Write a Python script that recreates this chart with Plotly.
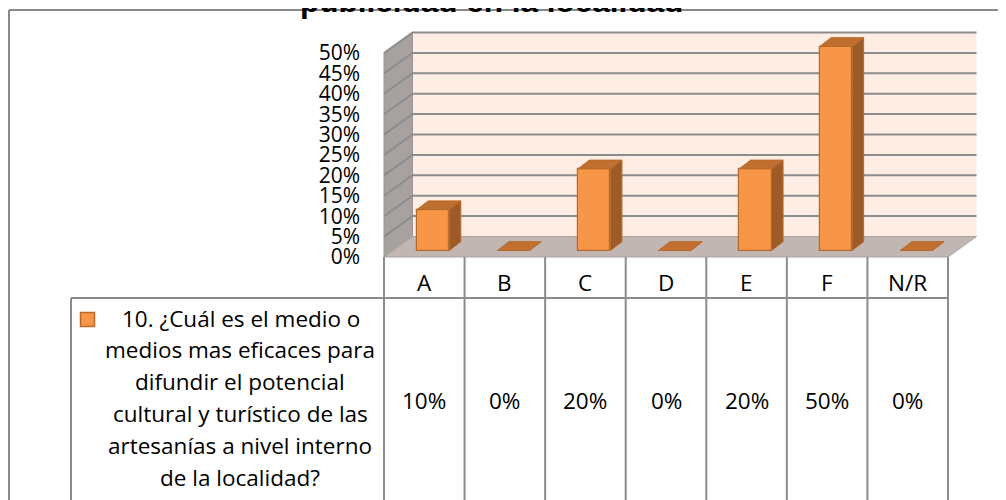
import plotly.graph_objects as go

# ---------------- data ----------------
categories = ["A", "B", "C", "D", "E", "F", "N/R"]
values = [0.10, 0.0, 0.20, 0.0, 0.20, 0.50, 0.0]
value_labels = ["10%", "0%", "20%", "0%", "20%", "50%", "0%"]
tick_vals = [0.0, 0.05, 0.10, 0.15, 0.20, 0.25, 0.30, 0.35, 0.40, 0.45, 0.50]
tick_text = ["0%", "5%", "10%", "15%", "20%", "25%", "30%", "35%", "40%", "45%", "50%"]
series_name_lines = [
    "10. ¿Cuál es el medio o",
    "medios mas eficaces para",
    "difundir el potencial",
    "cultural y turístico de las",
    "artesanías a nivel interno",
    "de la localidad?",
]
title_text = "publicidad en la localidad"

# ---------------- geometry (page pixel -> data helpers) ----------------
W, H = 1006, 500
PAGE_OFF = 8.0                     # browser body margin
FRONT_LEFT_PX = 384.0
FRONT_RIGHT_PX = 948.0
FLOOR_PX = 257.0
n = len(categories)
UX = (FRONT_RIGHT_PX - FRONT_LEFT_PX) / n   # px per category
UY = 204.0 / 0.5                             # px per unit value


def dx(px):
    return px / UX


def dy(px):
    return px / UY


def xpx(px):
    return (px - FRONT_LEFT_PX) / UX - 0.5


def ypx(px):
    return (FLOOR_PX - px) / UY


def xpaper(px):
    return (px - PAGE_OFF) / W


def ypaper(px):
    return 1 - (px - PAGE_OFF) / H


x_range = [xpx(PAGE_OFF), xpx(PAGE_OFF + W)]
y_range = [ypx(PAGE_OFF + H), ypx(PAGE_OFF)]

x_left, x_right = -0.5, n - 0.5
ymax = tick_vals[-1]
wall_dx, wall_dy = dx(28.5), dy(20.5)

bar_w = dx(32.5)
bar_off = dx(-7.5)           # bar front-left relative to category center
bar_base = dy(6.5)
bar_dx, bar_dy = dx(11.5), dy(8.8)

# colours
BACK_WALL = "#FDEDE4"
SIDE_WALL = "#A7A2A0"
FLOOR = "#C1B6B2"
GRID = "#8C8C8C"
FRONT = "#F79646"
TOP = "#C06F30"
SIDE = "#9E5B27"
EDGE = "#B86A2C"
TABLE = "#8C8C8C"
FONT = "'Open Sans', Lato, sans-serif"


def path_of(pts):
    return "M " + " L ".join(f"{a},{b}" for a, b in pts) + " Z"


shapes = []
# walls and floor (below traces)
back = [(x_left + wall_dx, wall_dy), (x_right + wall_dx, wall_dy),
        (x_right + wall_dx, ymax + wall_dy), (x_left + wall_dx, ymax + wall_dy)]
side = [(x_left, 0), (x_left + wall_dx, wall_dy),
        (x_left + wall_dx, ymax + wall_dy), (x_left, ymax)]
floor = [(x_left, 0), (x_right, 0), (x_right + wall_dx, wall_dy), (x_left + wall_dx, wall_dy)]
shapes.append(dict(type="path", path=path_of(back), fillcolor=BACK_WALL,
                   line=dict(width=0), layer="below"))
shapes.append(dict(type="path", path=path_of(side), fillcolor=SIDE_WALL,
                   line=dict(color="#9A9592", width=1), layer="below"))
shapes.append(dict(type="path", path=path_of(floor), fillcolor=FLOOR,
                   line=dict(color="#A9A3A0", width=1), layer="below"))
for v in tick_vals[1:]:
    shapes.append(dict(type="path",
                       path=f"M {x_left},{v} L {x_left + wall_dx},{v + wall_dy} L {x_right + wall_dx},{v + wall_dy}",
                       line=dict(color=GRID, width=2), layer="below"))

fig = go.Figure()

# bars: front faces
xs_front = [i + bar_off + bar_w / 2 for i in range(n)]
fig.add_trace(go.Bar(x=xs_front, y=[v if v > 0 else None for v in values], base=bar_base,
                     width=bar_w, marker=dict(color=FRONT, line=dict(color=EDGE, width=1.2)),
                     hoverinfo="skip", showlegend=False))


def poly_trace(polys, color, line_color=None, lw=0):
    xs, ys = [], []
    for p in polys:
        for (a, b) in p:
            xs.append(a)
            ys.append(b)
        xs.append(p[0][0])
        ys.append(p[0][1])
        xs.append(None)
        ys.append(None)
    return go.Scatter(x=xs, y=ys, mode="lines", fill="toself", fillcolor=color,
                      line=dict(color=line_color or color, width=lw),
                      hoverinfo="skip", showlegend=False)


# top and side faces
tops, sides = [], []
for i, v in enumerate(values):
    xl = i + bar_off
    xr = xl + bar_w
    yt = bar_base + v
    tops.append([(xl, yt), (xr, yt), (xr + bar_dx, yt + bar_dy), (xl + bar_dx, yt + bar_dy)])
    if v > 0:
        sides.append([(xr, bar_base), (xr + bar_dx, bar_base + bar_dy),
                      (xr + bar_dx, yt + bar_dy), (xr, yt)])
fig.add_trace(poly_trace(sides, SIDE, EDGE, 1))
fig.add_trace(poly_trace(tops, TOP, EDGE, 1))

# legend key
fig.add_trace(go.Scatter(x=[xpx(87.5)], y=[ypx(319.5)], mode="markers",
                         marker=dict(symbol="square", size=14, color=FRONT,
                                     line=dict(color=EDGE, width=1.5)),
                         hoverinfo="skip", showlegend=False))

# table lines
y_table_top = 0.0
y_header = ypx(298)
y_bottom = ypx(PAGE_OFF + H + 10)
for k in range(n + 1):
    xk = k - 0.5
    shapes.append(dict(type="line", x0=xk, x1=xk, y0=y_table_top, y1=y_bottom,
                       line=dict(color=TABLE, width=2)))
shapes.append(dict(type="line", x0=xpx(71), x1=x_right, y0=y_header, y1=y_header,
                   line=dict(color=TABLE, width=2)))
shapes.append(dict(type="line", x0=xpx(71), x1=xpx(71), y0=y_header, y1=y_bottom,
                   line=dict(color=TABLE, width=2)))
# outer chart frame
shapes.append(dict(type="line", xref="paper", yref="paper", x0=xpaper(9), x1=1.0,
                   y0=ypaper(10), y1=ypaper(10), line=dict(color="#8A8A8A", width=2)))
shapes.append(dict(type="line", xref="paper", yref="paper", x0=xpaper(9), x1=xpaper(9),
                   y0=ypaper(10), y1=-0.02, line=dict(color="#8A8A8A", width=2)))

TABLE_FONT = dict(family=FONT, size=22.5, color="black")
annotations = []
for i, c in enumerate(categories):
    annotations.append(dict(x=i, y=ypx(282), text=c, showarrow=False, font=TABLE_FONT,
                            xanchor="center", yanchor="middle"))
    annotations.append(dict(x=i, y=ypx(400), text=value_labels[i], showarrow=False,
                            font=TABLE_FONT, xanchor="center", yanchor="middle"))
for k, line in enumerate(series_name_lines):
    cx = 241 if k == 0 else 240
    annotations.append(dict(x=xpx(cx), y=ypx(318 + 31.8 * k), text=line, showarrow=False,
                            font=TABLE_FONT, xanchor="center", yanchor="middle"))
# title: mostly above the visible area (cut off at the top, as in the reference)
annotations.append(dict(xref="paper", yref="paper", x=xpaper(491), y=ypaper(1.2),
                        text="<b>" + title_text + "</b>", showarrow=False,
                        font=dict(family="Liberation Sans, Arial, sans-serif", size=31.5, color="black"),
                        xanchor="center", yanchor="middle"))

fig.update_layout(
    width=W, height=H, autosize=False,
    margin=dict(l=0, r=0, t=0, b=0),
    paper_bgcolor="white", plot_bgcolor="white",
    bargap=0,
    shapes=shapes, annotations=annotations,
    xaxis=dict(range=x_range, visible=False, fixedrange=True),
    yaxis=dict(range=y_range, showgrid=False, zeroline=False, showline=False,
               tickvals=tick_vals, ticktext=tick_text, ticks="",
               tickfont=dict(family=FONT, size=21, color="black"),
               anchor="free", position=xpaper(FRONT_LEFT_PX), side="left",
               ticklabelstandoff=24, fixedrange=True),
    showlegend=False,
)

fig.write_html("out.html")
